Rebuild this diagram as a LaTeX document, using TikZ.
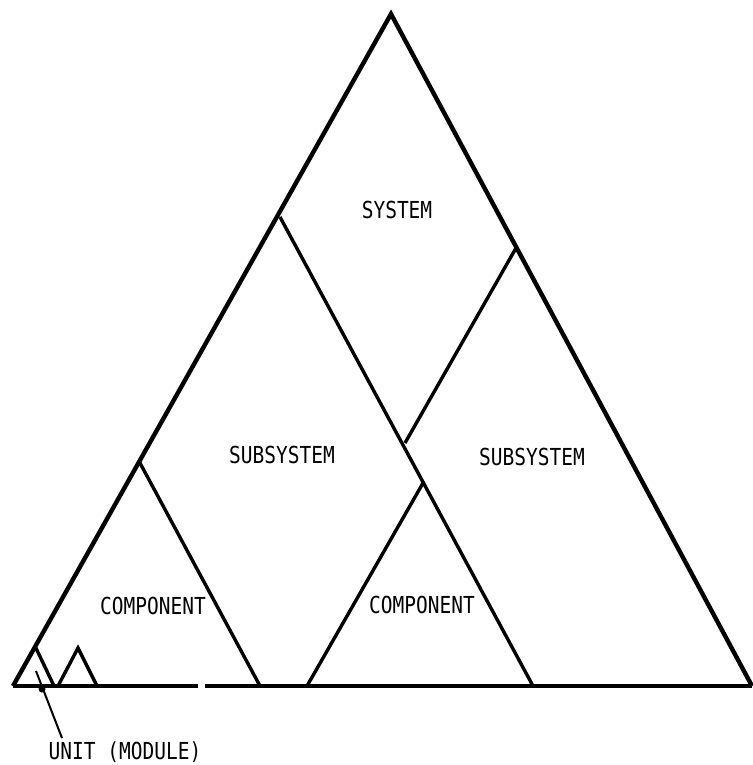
\documentclass[tikz,border=0pt]{standalone}
\usepackage{fontspec}
\setmonofont{DejaVu Sans Mono}
\usetikzlibrary{calc}

\begin{document}
\begin{tikzpicture}[x=1pt,y=-1pt,line join=miter]
\useasboundingbox (0,0) rectangle (752,765);
\tikzset{outer/.style={line width=4.4pt},inner/.style={line width=3.4pt},
  lbl/.style={font=\ttfamily\fontsize{19.5}{19.5}\selectfont,inner sep=0pt,yscale=1.2,transform shape}}
% corners of the whole system
\coordinate (top) at (391,14);
\coordinate (bl) at (13,686);
\coordinate (br) at (752,686);
\draw[outer] (bl)--(top)--(br);
\draw[outer] (bl)--(198,686);
\draw[outer] (205,686)--(br);
% subsystems
\coordinate (s1) at (280,217);
\coordinate (s2) at (516,248);
\draw[inner] (s1)--(533,686);
\draw[inner] (s2)--(405,443);
% components
\coordinate (c1) at (140,463);
\coordinate (c2) at (423,483);
\draw[inner] (c1)--(260,686);
\draw[inner] (c2)--(307,686);
% units
\coordinate (u1) at (35,646);
\coordinate (u2) at (78,648);
\draw[inner] (u1)--(54,686);
\draw[inner] (58,686)--(u2)--(97,686);
\node[lbl] (sys) at (397,210) {SYSTEM};
\node[lbl] (sub1) at (282,455) {SUBSYSTEM};
\node[lbl] (sub2) at (532,457) {SUBSYSTEM};
\node[lbl] (comp1) at (153,606) {COMPONENT};
\node[lbl] (comp2) at (422,605) {COMPONENT};
\node[lbl] (unit) at (125,752) {UNIT (MODULE)};
\coordinate (ptr) at (36,671);
\coordinate (ptrend) at (62,738);
\draw[line width=2pt] (ptr)--(ptrend);
\fill (42,689) circle (3.5pt);
\end{tikzpicture}
\end{document}
